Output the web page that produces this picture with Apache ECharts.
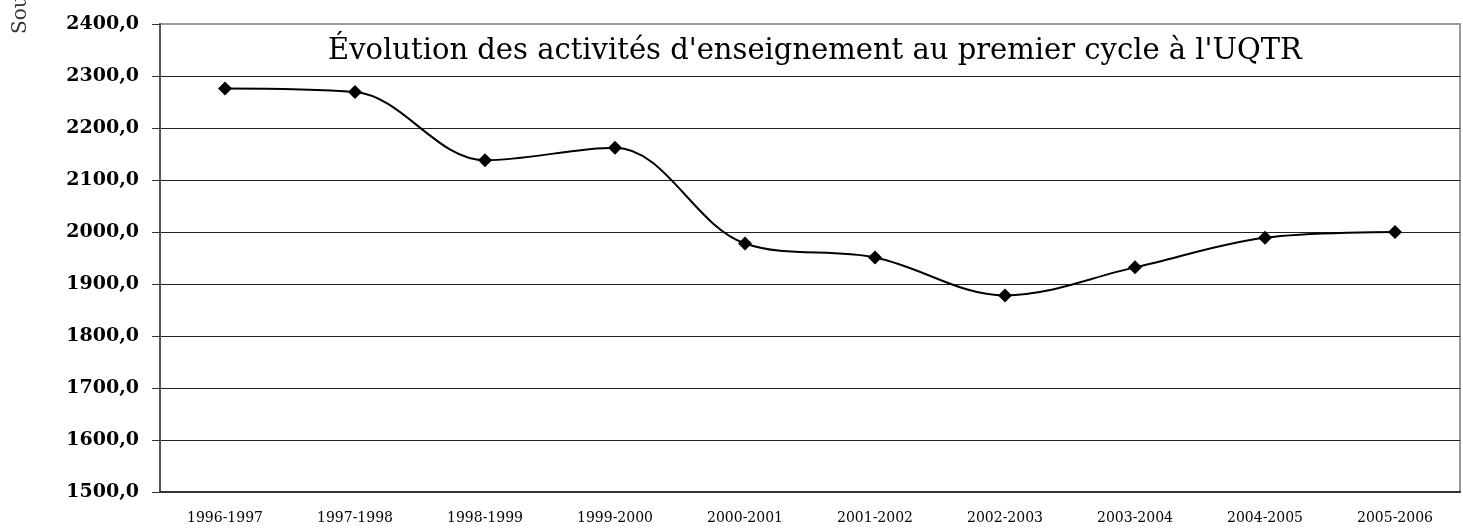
<!DOCTYPE html>
<html>
<head>
<meta charset="utf-8">
<script src="https://cdn.jsdelivr.net/npm/echarts@6/dist/echarts.min.js"></script>
<style>
  html, body { margin: 0; padding: 0; background: #fff; }
  #chart { width: 1463px; height: 529px; }
</style>
</head>
<body>
<div id="chart"></div>
<script>
// années universitaires
const years = ['1996-1997', '1997-1998', '1998-1999', '1999-2000', '2000-2001',
  '2001-2002', '2002-2003', '2003-2004', '2004-2005', '2005-2006'];
// activités d'enseignement, premier cycle
const activites = [2276, 2269, 2138, 2162, 1978, 1951, 1878, 1932, 1989, 2000];

const chart = echarts.init(document.getElementById('chart'));

const option = {
  animation: false,
  backgroundColor: '#fff',
  title: {
    text: "Évolution des activités d'enseignement au premier cycle à l'UQTR",
    left: 810,
    textAlign: 'center',
    top: 32,
    textStyle: {
      fontFamily: 'DejaVu Serif',
      fontWeight: 'normal',
      fontSize: 29,
      color: '#000'
    }
  },
  graphic: [{
    type: 'text',
    x: 11,
    y: 34,
    rotation: Math.PI / 2,
    style: {
      text: 'Source : UQTR',
      fontFamily: 'DejaVu Serif',
      fontSize: 20,
      fill: '#333',
      textVerticalAlign: 'top'
    }
  }],
  grid: {
    left: 160,
    right: 3,
    top: 24,
    bottom: 37,
    show: true,
    borderColor: '#999',
    borderWidth: 2
  },
  xAxis: {
    type: 'category',
    data: years,
    boundaryGap: true,
    axisLine: { lineStyle: { color: '#333', width: 2 } },
    axisTick: { length: 8, lineStyle: { color: '#333', width: 1 } },
    axisLabel: {
      margin: 19,
      fontFamily: 'DejaVu Serif',
      fontSize: 14,
      color: '#000',
      interval: 0
    }
  },
  yAxis: {
    type: 'value',
    min: 1500,
    max: 2400,
    interval: 100,
    axisLine: { show: true, lineStyle: { color: '#555', width: 2 } },
    axisTick: { show: true, length: 8, lineStyle: { color: '#333' } },
    axisLabel: {
      margin: 21,
      fontFamily: 'DejaVu Serif',
      fontWeight: 'bold',
      fontSize: 19,
      color: '#000',
      formatter: v => v.toFixed(1).replace('.', ',')
    },
    splitLine: {
      showMaxLine: false,
      lineStyle: { color: '#222', width: 1 }
    }
  },
  series: [{
    type: 'line',
    data: activites,
    smooth: 0.35,
    symbol: 'diamond',
    symbolSize: 14,
    itemStyle: { color: '#000' },
    lineStyle: { color: '#000', width: 2 }
  }]
};

chart.setOption(option);
</script>
</body>
</html>
